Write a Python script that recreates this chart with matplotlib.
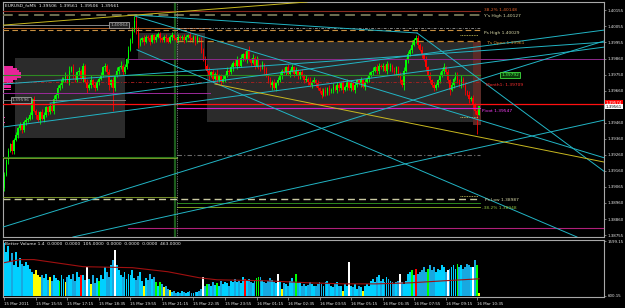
import matplotlib
matplotlib.use("Agg")
import matplotlib.pyplot as plt
from matplotlib.patches import Rectangle
import matplotlib.transforms as mtransforms

# ---------------- data ----------------
title = "EURUSD_fxMS  1.39506  1.39561  1.39506  1.39561"
vol_title = "Better Volume 1.4  0.0000  0.0000  105.0000  0.0000  0.0000  0.0000  463.0000"

base = 1.3900
first_open_pips = 5
closes_pips = [
    13, 22, 28, 32, 28, 35, 38, 42, 44, 41,
    46, 47, 48, 50, 60, 53, 50, 47, 52, 48,
    50, 55, 52, 56, 53, 60, 63, 67, 69, 72,
    73, 75, 71, 78, 80, 75, 72, 77, 78, 73,
    81, 71, 67, 69, 72, 69, 67, 71, 73, 75,
    80, 81, 77, 69, 72, 67, 75, 78, 80, 81,
    77, 80, 85, 91, 97, 103, 109, 104, 94, 97,
    98, 96, 99, 98, 96, 100, 97, 99, 101, 98,
    97, 99, 98, 96, 99, 100, 98, 97, 99, 98,
    99, 97, 99, 100, 98, 97, 99, 96, 98, 97,
    91, 85, 81, 78, 75, 77, 73, 76, 72, 75,
    71, 73, 75, 78, 77, 80, 83, 81, 85, 81,
    86, 88, 85, 90, 85, 83, 86, 81, 85, 81,
    80, 82, 78, 75, 72, 69, 71, 67, 70, 72,
    75, 78, 77, 80, 76, 78, 80, 76, 78, 75,
    77, 75, 72, 73, 71, 69, 71, 72, 70, 67,
    65, 63, 66, 64, 67, 65, 66, 68, 66, 69,
    67, 70, 66, 68, 71, 67, 70, 66, 69, 72,
    70, 72, 68, 71, 73, 75, 77, 78, 80, 78,
    81, 80, 81, 78, 82, 80, 81, 78, 77, 80,
    75, 72, 69, 78, 85, 88, 91, 94, 97, 98,
    94, 91, 88, 85, 80, 75, 72, 69, 67, 69,
    72, 75, 78, 80, 77, 72, 66, 69, 73, 75,
    72, 69, 73, 69, 65, 63, 60, 61, 57, 53,
    50.6, 56.1,
]
wick_up = [int(c) for c in (
    "2121312121" "1212121312" "2112131212" "1213121121" "2121312112"
    "1212121213" "1212123311" "1211211211" "1121121121" "1211211121"
    "2121212131" "1212121221" "2121312121" "1212121212" "2121212121"
    "1212131212" "1212121212" "2121212121" "1212121212" "2121212121"
    "1212121312" "2121212121" "1213121212" "2121212121" "10")]
wick_dn = [
    2, 1, 2, 1, 2, 2, 1, 2, 1, 2,  1, 2, 1, 1, 2, 1, 2, 1, 2, 1,
    2, 1, 2, 1, 1, 2, 1, 2, 1, 2,  1, 2, 1, 2, 1, 2, 1, 1, 2, 1,
    2, 1, 3, 1, 2, 1, 2, 1, 2, 1,  1, 2, 1, 3, 1, 14, 2, 1, 2, 1,
    2, 1, 1, 2, 1, 2, 1, 3, 2, 1,  1, 2, 1, 1, 2, 1, 2, 1, 1, 2,
    1, 1, 2, 1, 1, 2, 1, 1, 2, 1,  1, 2, 1, 1, 2, 1, 1, 2, 1, 1,
    2, 1, 2, 1, 3, 1, 2, 1, 2, 1,  2, 1, 2, 1, 2, 1, 2, 1, 2, 1,
    1, 2, 1, 2, 1, 2, 1, 2, 1, 2,  2, 1, 2, 1, 2, 1, 3, 1, 2, 1,
    1, 2, 1, 2, 1, 2, 1, 2, 1, 2,  2, 1, 2, 1, 2, 1, 2, 1, 2, 1,
    1, 2, 1, 2, 1, 2, 1, 2, 1, 2,  2, 1, 2, 1, 2, 1, 2, 1, 2, 1,
    1, 2, 1, 2, 1, 2, 1, 2, 1, 2,  2, 1, 2, 1, 2, 1, 2, 1, 2, 1,
    1, 2, 1, 3, 1, 2, 1, 2, 1, 2,  2, 1, 2, 1, 2, 1, 2, 1, 2, 1,
    1, 2, 1, 2, 1, 2, 3, 1, 2, 1,  2, 1, 2, 1, 2, 1, 2, 1, 3, 2,
    12, 0]

volumes = [
    1550, 1300, 1450, 1000, 1250, 900, 1300, 850, 1100, 950,
    880, 1000, 900, 800, 700, 650, 750, 600, 550, 600,
    520, 650, 480, 560, 450, 600, 520, 480, 450, 600,
    500, 420, 550, 600, 500, 650, 450, 700, 550, 620,
    600, 480, 850, 500, 350, 600, 380, 520, 450, 600,
    500, 850, 700, 550, 900, 1050, 1350, 900, 750, 600,
    550, 700, 500, 650, 600, 750, 520, 480, 580, 700,
    450, 300, 520, 480, 650, 500, 550, 400, 300, 400,
    350, 250, 300, 200, 180, 120, 150, 100, 130, 90,
    150, 110, 80, 120, 140, 100, 90, 130, 110, 150,
    200, 550, 300, 350, 350, 280, 400, 320, 380, 300,
    450, 350, 420, 380, 300, 450, 400, 500, 420, 450,
    380, 550, 500, 480, 500, 420, 380, 450, 520, 550,
    560, 480, 420, 380, 450, 520, 480, 400, 380, 650,
    420, 200, 380, 350, 300, 450, 520, 400, 650, 380,
    420, 300, 350, 280, 320, 400, 350, 300, 280, 350,
    400, 350, 300, 400, 450, 380, 300, 250, 350, 400,
    300, 280, 150, 350, 300, 1000, 300, 250, 350, 200,
    300, 250, 150, 280, 350, 300, 450, 500, 400, 550,
    600, 450, 500, 400, 550, 500, 450, 400, 350, 400,
    450, 650, 400, 350, 450, 650, 700, 750, 600, 800,
    650, 700, 750, 850, 700, 800, 900, 750, 850, 700,
    800, 750, 900, 850, 700, 750, 800, 850, 900, 800,
    950, 850, 900, 800, 850, 950, 900, 850, 850, 1050,
    900, 100,
]
vol_special = {15: 'y', 16: 'y', 17: 'y', 18: 'y', 23: 'y', 28: 'g', 31: 'y',
               39: 'r', 42: 'w', 44: 'y', 48: 'g', 56: 'w', 71: 'y', 77: 'g',
               79: 'g', 81: 'y', 84: 'y', 101: 'w', 103: 'g', 108: 'g', 122: 'r',
               128: 'g', 129: 'g', 139: 'w', 141: 'y', 148: 'g', 172: 'y',
               175: 'w', 182: 'y', 201: 'w', 207: 'g', 209: 'r', 215: 'g',
               225: 'w', 230: 'g', 238: 'w', 240: 'g', 241: 'y'}
vol_ma_idx = [0, 8, 15, 40, 65, 83, 99, 108, 133, 155, 172, 189, 206, 223, 241]
vol_ma_val = [977, 1066, 1066, 858, 829, 710, 533, 474, 444, 385, 355, 355, 385, 444, 503]

time_labels = ["15 Mar 2011", "15 Mar 15:55", "15 Mar 17:15", "15 Mar 18:35",
               "15 Mar 19:55", "15 Mar 21:15", "15 Mar 22:35", "15 Mar 23:55",
               "16 Mar 01:15", "16 Mar 02:35", "16 Mar 03:55", "16 Mar 05:15",
               "16 Mar 06:35", "16 Mar 07:55", "16 Mar 09:15", "16 Mar 10:35"]
bars_per_label = 16

price_tick_top = 1.40155
price_tick_step = 0.001
price_labels = ["1.40155", "1.40055", "1.39955", "1.39860", "1.39750", "1.39660",
                None, "1.39460", "1.39360", "1.39260", "1.39160", "1.39065",
                "1.38960", "1.38860", "1.38755"]

bid = 1.39561
red_level = 1.39574

# horizontal levels: (price, start bar, end bar, color, width, style)
h_levels = [
    (1.40148, -0.7, 241.4, '#8a2a20', 0.8, '-'),
    (1.40127, -0.7, 241.4, '#707052', 1.4, (0, (5, 3))),
    (1.40064, -0.7, 56.0, '#9a9a9a', 0.6, '-'),
    (1.40045, -0.7, 104.4, '#b0602a', 0.7, '-'),
    (1.40042, 87.6, 241.4, '#b8b8b8', 0.5, (0, (4, 2, 1, 2))),
    (1.40032, -0.7, 241.4, '#c89040', 0.8, (0, (5, 3))),
    (1.40001, 231.3, 240.4, '#d8d060', 0.6, (0, (1, 1))),
    (1.39962, 87.6, 241.4, '#c88428', 0.9, (0, (5, 3))),
    (1.39852, 62.8, 304.4, '#8c2a8c', 0.7, '-'),
    (1.39752, -0.7, 241.4, '#2e8a22', 0.8, '-'),
    (1.39708, -0.7, 241.4, '#b02020', 0.6, (0, (4, 2, 1, 2))),
    (1.39640, -0.7, 104.4, '#9a2a9a', 0.7, '-'),
    (1.39596, -0.7, 61.2, '#8a8a8a', 0.6, '-'),
    (red_level, -0.7, 304.4, '#ff1010', 0.9, '-'),
    (1.39546, 87.6, 241.4, '#d020d0', 0.8, '-'),
    (1.39490, 231.3, 240.4, '#d8d060', 0.6, (0, (1, 1))),
    (1.39253, 87.6, 241.4, '#6a6a6a', 0.8, (0, (4, 2, 1, 2))),
    (1.39244, -0.7, 87.6, '#2a7a1a', 0.8, '-'),
    (1.39233, -0.7, 87.6, '#8aa830', 0.6, '-'),
    (1.38998, 231.3, 240.4, '#d8d060', 0.6, (0, (1, 1))),
    (1.38990, -0.7, 87.6, '#8aa830', 0.6, '-'),
    (1.38979, -0.7, 241.4, '#c8c8a0', 1.0, (0, (5, 3))),
    (1.38954, 87.6, 241.4, '#2e8a22', 0.7, '-'),
    (1.38929, 87.6, 241.4, '#7aa020', 0.7, '-'),
    (1.38799, 62.8, 304.4, '#b0207a', 0.8, '-'),
]

# trend lines: (bar0, price0, bar1, price1, color)
trend_lines = [
    (-0.7, 1.38805, 304.4, 1.39964, '#22b5c5'),
    (34.8, 1.38743, 304.4, 1.39471, '#22b5c5'),
    (-0.7, 1.39696, 304.4, 1.39957, '#22b5c5'),
    (-0.7, 1.39428, 304.4, 1.39926, '#22b5c5'),
    (23.2, 1.39577, 304.4, 1.40032, '#22b5c5'),
    (67.3, 1.39909, 290.7, 1.38743, '#22b5c5'),
    (66.3, 1.40126, 209.5, 1.40014, '#22b5c5'),
    (209.5, 1.40014, 304.9, 1.39148, '#22b5c5'),
    (66.3, 1.40119, 304.9, 1.39235, '#22b5c5'),
    (-0.7, 1.40063, 153.6, 1.40207, '#c8b820'),
    (106.9, 1.39696, 304.4, 1.39210, '#c8b820'),
]

# shaded boxes: (bar0, bar1, price_top, price_bottom, color)
boxes = [
    (5.4, 61.2, 1.39858, 1.39359, '#2b2b2b'),
    (67.8, 101.8, 1.40014, 1.39852, '#2b2b2b'),
    (102.9, 241.4, 1.39957, 1.39459, '#2b2b2b'),
    (237.9, 241.9, 1.39957, 1.39440, '#5a2a26'),
]

profile_prices = [1.39800, 1.39787, 1.39775, 1.39762, 1.39750, 1.39737,
                  1.39725, 1.39712, 1.39700, 1.39687, 1.39675, 1.39662]
profile_bars = [5, 7, 8, 9, 9, 9, 7, 5, 5, 4, 4, 4]

# right-side level texts: (bar, price, text, color)
level_texts = [
    (243.5, 1.40157, "38.2% 1.40148", '#e0602a'),
    (243.5, 1.40119, "Y's High 1.40127", '#d8d8a8'),
    (243.5, 1.40014, "Ps High 1.40029", '#d8d8a8'),
    (244.5, 1.39951, "T's Open 1.39961", '#d89030'),
    (244.5, 1.39690, "Month1: 1.39709", '#ff3030'),
    (242.5, 1.39528, "Pivot 1.39547", '#ff40ff'),
    (244.0, 1.38973, "Ps Low 1.38987", '#d8d8a8'),
    (242.5, 1.38923, "-38.2% 1.38948", '#90c040'),
]

# ---------------- drawing ----------------
FS = 3.2
FT = 2.9
XMIN, XMAX = -0.7, 304.4
YMIN, YMAX = 1.38743, 1.40207

fig = plt.figure(figsize=(6.25, 3.08), dpi=100, facecolor='black')
ax = fig.add_axes([3 / 625, 71 / 308, 601 / 625, 235 / 308], facecolor='black')
axv = fig.add_axes([3 / 625, 11 / 308, 601 / 625, 57 / 308], facecolor='black')

for a in (ax, axv):
    for s in a.spines.values():
        s.set_color('#a8a8a8')
        s.set_linewidth(0.8)
    a.set_xlim(XMIN, XMAX)

ax.set_ylim(YMIN, YMAX)

for (b0, b1, pt, pb, c) in boxes:
    ax.add_patch(Rectangle((b0, pb), b1 - b0, pt - pb, facecolor=c,
                           edgecolor='none', zorder=1))

ax.barh(profile_prices, profile_bars, height=0.00012, left=XMIN,
        color='#e8249a', zorder=2)
ax.barh([1.39490, 1.39459], [1.2, 1.2], height=0.00006, left=XMIN,
        color='#e8249a', zorder=2)

# candles
n = len(closes_pips)
opens = [base + first_open_pips / 1e4] + [base + c / 1e4 for c in closes_pips[:-1]]
closes = [base + c / 1e4 for c in closes_pips]
highs, lows, cols = [], [], []
for i in range(n):
    o, c = opens[i], closes[i]
    highs.append(max(o, c) + wick_up[i] / 1e4)
    lows.append(min(o, c) - wick_dn[i] / 1e4)
    cols.append('#00ff00' if c >= o else '#ff0000')
xs = list(range(n))
ax.vlines(xs, lows, highs, colors=cols, linewidth=0.6, zorder=3)
ax.bar(xs, [max(abs(c - o), 0.00002) for o, c in zip(opens, closes)],
       bottom=[min(o, c) for o, c in zip(opens, closes)], width=0.8,
       color=cols, zorder=3, linewidth=0)

for (p, b0, b1, c, lw, ls) in h_levels:
    ax.plot([b0, b1], [p, p], color=c, lw=lw, linestyle=ls, zorder=4)

for (b0, p0, b1, p1, c) in trend_lines:
    ax.plot([b0, b1], [p0, p1], color=c, lw=0.7, zorder=4)

ax.axvline(86.4, color='#1d5e1d', lw=1.6, zorder=2)
ax.axvline(87.6, color='#c8c8c8', lw=0.5, linestyle=(0, (1, 1.5)), zorder=4)

for (b, p, s, c) in level_texts:
    ax.text(b, p, s, color=c, fontsize=FS, va='center', ha='left', zorder=6)

ax.text(256.7, 1.39752, "1.39792", color='#50ff50', fontsize=FS, va='center',
        ha='center', zorder=6,
        bbox=dict(boxstyle='square,pad=0.25', fc='#0a3a0a', ec='#40e040', lw=0.6))
ax.text(58.2, 1.40066, "1.40064", color='#b8b8b8', fontsize=FS, va='center',
        ha='center', zorder=6,
        bbox=dict(boxstyle='square,pad=0.25', fc='#202020', ec='#a0a0a0', lw=0.6))
ax.text(8.4, 1.39596, "1.39596", color='#b8b8b8', fontsize=FS, va='center',
        ha='center', zorder=6,
        bbox=dict(boxstyle='square,pad=0.25', fc='#202020', ec='#a0a0a0', lw=0.6))

# price axis
ticks, labs = [], []
for k, lab in enumerate(price_labels):
    if lab is not None:
        ticks.append(price_tick_top - k * price_tick_step)
        labs.append(lab)
ax.yaxis.tick_right()
ax.set_yticks(ticks)
ax.set_yticklabels(labs)
ax.tick_params(axis='y', colors='#a8a8a8', labelcolor='#e8e8e8', labelsize=FT,
               length=1.5, width=0.5, pad=1.0)
ax.set_xticks([])

tr = mtransforms.blended_transform_factory(ax.transAxes, ax.transData)
ax.text(1.003, red_level + 0.00004, "1.39574", transform=tr, color='white',
        fontsize=FT, va='center', ha='left', clip_on=False, zorder=7,
        bbox=dict(boxstyle='square,pad=0.12', fc='#ff0000', ec='none'))
ax.text(1.003, bid - 0.00008, "1.39561", transform=tr, color='black',
        fontsize=FT, va='center', ha='left', clip_on=False, zorder=8,
        bbox=dict(boxstyle='square,pad=0.12', fc='white', ec='none'))

# volume panel
vcols = []
for i, v in enumerate(volumes):
    code = vol_special.get(i, 'b')
    if code == 'b':
        up = i < n and closes[i] >= opens[i]
        vcols.append('#00d0ff' if up else '#18a8e0')
    else:
        vcols.append({'y': '#ffff00', 'w': '#ffffff', 'g': '#00ff00',
                      'r': '#ff0000'}[code])
axv.bar(range(len(volumes)), volumes, width=0.95, color=vcols, linewidth=0)
axv.plot(vol_ma_idx, vol_ma_val, color='#a01010', lw=0.8)
axv.set_ylim(-30, 1640)
axv.yaxis.tick_right()
axv.set_yticks([1599.15, 0])
axv.set_yticklabels(["1599.15", "600.15"])
axv.tick_params(axis='y', colors='#a8a8a8', labelcolor='#e8e8e8', labelsize=FT,
                length=1.5, width=0.5, pad=1.0)
axv.set_xticks([k * bars_per_label for k in range(len(time_labels))])
axv.set_xticklabels(time_labels, ha='left')
axv.tick_params(axis='x', colors='#a8a8a8', labelcolor='#e8e8e8', labelsize=FT,
                length=2, width=0.5, pad=1.5)
for lab in axv.get_xticklabels():
    lab.set_horizontalalignment('left')

fig.text(5 / 625, 1 - 5 / 308, title, color='#f0f0f0', fontsize=FS,
         va='center', ha='left')
fig.text(5 / 625, 1 - 244 / 308, vol_title, color='#f0f0f0', fontsize=FS,
         va='center', ha='left')

fig.savefig("out.png", dpi=100, facecolor='black')
